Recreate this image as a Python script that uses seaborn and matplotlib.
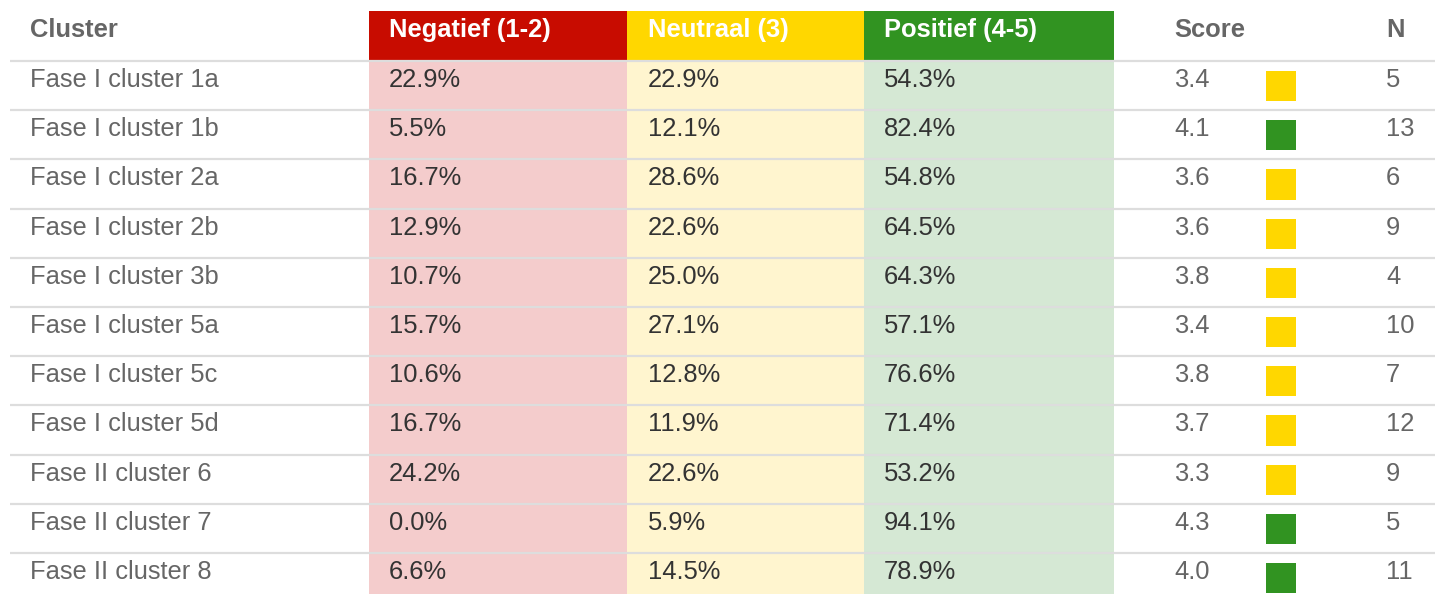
import matplotlib.pyplot as plt
import seaborn as sns
import pandas as pd

sns.set_theme(style="white")
plt.rcParams['font.family'] = ['Liberation Sans', 'DejaVu Sans']

# Table data
clusters = ['Fase I cluster 1a', 'Fase I cluster 1b', 'Fase I cluster 2a', 'Fase I cluster 2b',
            'Fase I cluster 3b', 'Fase I cluster 5a', 'Fase I cluster 5c', 'Fase I cluster 5d',
            'Fase II cluster 6', 'Fase II cluster 7', 'Fase II cluster 8']
negatief = [22.9, 5.5, 16.7, 12.9, 10.7, 15.7, 10.6, 16.7, 24.2, 0.0, 6.6]
neutraal = [22.9, 12.1, 28.6, 22.6, 25.0, 27.1, 12.8, 11.9, 22.6, 5.9, 14.5]
positief = [54.3, 82.4, 54.8, 64.5, 64.3, 57.1, 76.6, 71.4, 53.2, 94.1, 78.9]
scores = [3.4, 4.1, 3.6, 3.6, 3.8, 3.4, 3.8, 3.7, 3.3, 4.3, 4.0]
counts = [5, 13, 6, 9, 4, 10, 7, 12, 9, 5, 11]

headers = ['Cluster', 'Negatief (1-2)', 'Neutraal (3)', 'Positief (4-5)', 'Score', 'N']

RED, YELLOW, GREEN = '#c80c00', '#ffd700', '#319321'
LIGHT = {'neg': '#f4cccc', 'neu': '#fff5cf', 'pos': '#d5e8d4'}
GREY, DARK = '#666666', '#333333'

W, H = 1435, 594
ROW = 49.2
TOP = 61

fig = plt.figure(figsize=(W / 100, H / 100), dpi=100)
ax = fig.add_axes([0, 0, 1, 1])
ax.set_xlim(0, W)
ax.set_ylim((H - TOP) / ROW, -TOP / ROW)
ax.axis('off')

n = len(clusters)
bottom_y = (H - TOP) / ROW
header_top = (11 - TOP) / ROW

# column bands (left, right, header colour, body colour)
bands = [(369, 627, RED, LIGHT['neg']),
         (627, 864, YELLOW, LIGHT['neu']),
         (864, 1114, GREEN, LIGHT['pos'])]
for left, right, hc, bc in bands:
    ax.bar(left, 0 - header_top, width=right - left, bottom=header_top, align='edge',
           color=hc, linewidth=0, zorder=1)
    ax.bar(left, bottom_y, width=right - left, bottom=0, align='edge',
           color=bc, linewidth=0, zorder=1)

# row separators
ax.hlines(range(n), 10, W, color='#dddddd', lw=1.6, zorder=2)

fs = 18.4
col_x = [30, 389, 648, 884, 1174, 1386]
hdr_colors = [GREY, 'white', 'white', 'white', GREY, GREY]
for x, h, c in zip(col_x, headers, hdr_colors):
    ax.text(x, -0.49, h, fontsize=fs, fontweight='bold', color=c, va='baseline', zorder=3)

for i in range(n):
    yb = i + 0.53
    ax.text(col_x[0], yb, clusters[i], fontsize=fs, color=GREY, va='baseline', zorder=3)
    ax.text(col_x[1], yb, f'{negatief[i]:.1f}%', fontsize=fs, color=DARK, va='baseline', zorder=3)
    ax.text(col_x[2], yb, f'{neutraal[i]:.1f}%', fontsize=fs, color=DARK, va='baseline', zorder=3)
    ax.text(col_x[3], yb, f'{positief[i]:.1f}%', fontsize=fs, color=DARK, va='baseline', zorder=3)
    ax.text(col_x[4], yb, f'{scores[i]:.1f}', fontsize=fs, color=GREY, va='baseline', zorder=3)
    ax.text(col_x[5], yb, str(counts[i]), fontsize=fs, color=GREY, va='baseline', zorder=3)

# score indicator squares
df = pd.DataFrame({'row': [i + 0.51 for i in range(n)], 'score': scores})
df['x'] = 1281
df['band'] = ['hoog' if s >= 4.0 else 'midden' for s in scores]
sns.scatterplot(data=df, x='x', y='row', hue='band', palette={'hoog': GREEN, 'midden': YELLOW},
                marker='s', s=470, linewidth=0, legend=False, ax=ax, zorder=3)

fig.savefig('out.png', dpi=100)
